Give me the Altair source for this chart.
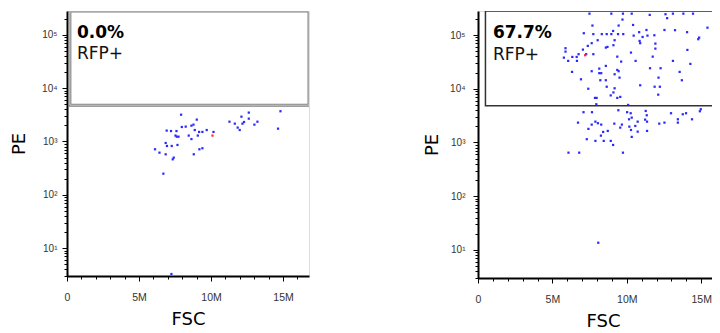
import altair as alt
import pandas as pd

# ---------------- data (FSC in millions, PE in raw units) ----------------
left_fsc = [7.92, 9.01, 6.92, 7.22, 7.60, 7.97, 8.24, 8.64, 8.78, 8.87, 9.17, 9.40, 9.70, 10.17,
            7.53, 7.62, 7.74, 8.45, 9.08, 8.64, 6.85, 6.94, 7.27, 7.67, 6.11, 6.42, 6.85, 7.41,
            7.34, 8.80, 9.19, 9.40, 6.69, 7.25, 11.28, 11.65, 12.11, 12.29, 12.18, 12.62, 12.62,
            11.85, 11.99, 13.01, 13.22, 14.82, 14.65]
left_pe = [3180, 2570, 1600, 1570, 1570, 1870, 1900, 1980, 2070, 1640, 1510, 1510, 1640, 1510,
           1290, 1230, 1230, 1290, 1290, 1110, 938, 824, 824, 861, 714, 617, 575, 498,
           463, 575, 714, 746, 249, 3.27, 2350, 2160, 2920, 2320, 2160, 3480, 2680,
           1820, 1640, 2070, 2350, 3690, 1740]
left_red_fsc = [10.10]
left_red_pe = [1290]

right_fsc = [7.49, 8.96, 9.74, 10.33, 11.54, 12.60, 12.71, 13.10, 13.80, 14.45, 9.71, 7.69, 9.45,
             10.42, 11.32, 12.53, 13.24, 15.42, 7.11, 7.75, 8.32, 8.65, 8.96, 9.08, 9.41, 9.76,
             10.46, 10.83, 11.06, 11.39, 11.85, 14.05, 14.86, 14.80, 8.04, 9.18, 10.86, 10.90,
             11.92, 7.64, 7.38, 9.10, 8.70, 8.59, 7.05, 5.88, 5.88, 11.92, 14.07, 10.28, 6.76,
             7.27, 7.75, 6.63, 6.34, 9.36, 5.77, 6.06, 6.65, 9.62, 10.59, 13.10, 14.27, 11.74,
             8.59, 8.15, 9.36, 9.45, 11.56, 12.27, 6.32, 7.64, 8.15, 8.28, 9.18, 13.55, 9.51,
             12.13, 6.92, 8.22, 8.59, 13.70, 10.90, 8.65, 11.87, 12.22, 7.41, 9.18, 9.10, 8.92,
             9.36, 9.56, 12.11, 7.86, 7.97, 7.95, 10.09,
             9.43, 10.02, 10.26, 11.27, 11.34, 7.09, 7.66, 12.97, 13.76, 13.98, 14.91, 14.97,
             6.72, 7.89, 8.06, 8.28, 7.64, 9.16, 9.67, 10.15, 10.33, 10.73, 11.23, 11.36, 10.57,
             10.17, 12.18, 12.53, 13.43, 13.43, 14.38, 7.42, 8.72, 8.41, 9.56, 10.28, 10.73,
             11.36, 8.26, 10.33, 7.31, 7.89, 8.45, 8.92, 9.08, 6.08, 6.80, 9.74, 8.08]
right_pe = [2.5e5, 2.5e5, 2.5e5, 2.5e5, 2.37e5, 2.44e5, 2.06e5, 2.5e5, 2.5e5, 2.5e5, 1.94e5, 1.5e5,
            1.5e5, 1.54e5, 1.24e5, 1.24e5, 1.23e5, 1.37e5, 1.08e5, 1.04e5, 1.04e5, 1.04e5, 1.04e5,
            1.19e5, 1.04e5, 1.04e5, 9.75e4, 1.13e5, 9.2e4, 9.75e4, 9.9e4, 1.13e5, 8.95e4, 8.36e4,
            8.0e4, 8.0e4, 7.76e4, 7.05e4, 6.92e4, 7.05e4, 6.27e4, 6.46e4, 6.01e4, 5.83e4, 5.35e4,
            5.68e4, 4.91e4, 5.58e4, 5.28e4, 4.71e4, 4.4e4, 4.4e4, 4.4e4, 3.91e4, 3.91e4, 3.96e4,
            3.79e4, 3.3e4, 3.3e4, 3.2e4, 3.3e4, 3.3e4, 2.9e4, 3.96e4, 2.66e4, 2.37e4, 2.24e4,
            2.12e4, 2.41e4, 2.41e4, 2.06e4, 2.12e4, 1.95e4, 1.95e4, 1.86e4, 2.06e4, 1.61e4,
            1.61e4, 1.5e4, 1.44e4, 1.44e4, 1.44e4, 1.16e4, 1.09e4, 1.09e4, 1.09e4, 1.0e4, 1.02e4,
            8530, 7520, 6750, 7050, 7760, 6750, 6750, 5150, 5000,
            3980, 3660, 3500, 3860, 3210, 3660, 3660, 3500, 3350, 3500, 3810, 4160,
            2340, 2440, 2280, 2150, 2150, 2240, 2150, 2700, 2900, 2440, 2660, 2440, 2030,
            1970, 2240, 2340, 2700, 2340, 2700, 1790, 1640, 1570, 1890, 1710, 1590,
            1640, 1340, 1270, 1150, 1070, 1070, 1070, 899, 646, 646, 646, 13.6]
right_red_fsc = [7.20]
right_red_pe = [4.21e4]

# gates: [FSC min (M), FSC max (M), PE min, PE max]
left_gate = [0.2, 16.8, 4800, 2.8e5]
right_gate = [0.5, 16.8, 4800, 2.8e5]

# annotations
left_pct = "0.0%"
right_pct = "67.7%"
gate_name = "RFP+"
left_text_fsc = 0.69
right_text_fsc = 1.0
pct_pe = 8.9e4
name_pe = 3.5e4

x_domain = [0, 16.8e6]
y_domain = [3, 2.8e5]
x_major = [0, 5_000_000, 10_000_000, 15_000_000]
x_minor = [i * 1_000_000 for i in range(0, 17)]
y_major = [10, 100, 1000, 10000, 100000]
y_minor = ([m for m in range(3, 10)] + [m * 10 for m in range(1, 10)] +
           [m * 100 for m in range(1, 10)] + [m * 1000 for m in range(1, 10)] +
           [m * 10000 for m in range(1, 10)] + [m * 100000 for m in range(1, 3)])

BLUE = "#2a2aff"
RED = "#ff2a2a"
LABEL_FONT = "Liberation Sans"
TITLE_FONT = "DejaVu Sans"


def panel(fsc, pe, red_fsc, red_pe, gate, pct, text_fsc, width, height,
          ylab_pad, ytitle_pad, gate_color, gate_w, double_line):
    pts = pd.DataFrame({"FSC": [v * 1e6 for v in fsc], "PE": pe})
    reds = pd.DataFrame({"FSC": [v * 1e6 for v in red_fsc], "PE": red_pe})
    g = pd.DataFrame({"x": [gate[0] * 1e6], "x2": [gate[1] * 1e6],
                      "y": [gate[2]], "y2": [gate[3]]})
    lab_b = pd.DataFrame({"FSC": [text_fsc * 1e6], "PE": [pct_pe], "t": [pct]})
    lab_n = pd.DataFrame({"FSC": [text_fsc * 1e6], "PE": [name_pe], "t": [gate_name]})

    xscale = alt.Scale(domain=x_domain, nice=False, zero=False)
    yscale = alt.Scale(type="log", domain=y_domain, nice=False)

    x_min_axis = alt.Axis(orient="bottom", values=x_minor, labels=False, tickSize=3,
                          tickColor="black", tickWidth=1, domainColor="black",
                          domainWidth=2, grid=False, title=None)
    y_min_axis = alt.Axis(orient="left", values=y_minor, labels=False, tickSize=3,
                          tickColor="black", tickWidth=1, domainColor="black",
                          domainWidth=2, grid=False, title=None)
    x_maj_axis = alt.Axis(
        orient="bottom", values=x_major,
        labelExpr="datum.value == 0 ? '0' : (datum.value / 1000000) + 'M'",
        tickSize=5, tickColor="black", tickWidth=1, domain=False,
        labelFont=LABEL_FONT, labelFontSize=10.5, labelColor="#333",
        labelPadding=11, labelOverlap=False, labelFlush=False, grid=False,
        title="FSC", titleFont=TITLE_FONT, titleFontSize=18, titleFontWeight="normal",
        titleColor="black", titlePadding=8)
    y_maj_axis = alt.Axis(
        orient="left", values=y_major,
        labelExpr="datum.value == 10 ? '10¹' : datum.value == 100 ? '10²' : datum.value == 1000 ? '10³' : datum.value == 10000 ? '10⁴' : '10⁵'",
        tickSize=5, tickColor="black", tickWidth=1, domain=False,
        labelFont=LABEL_FONT, labelFontSize=10, labelColor="#333",
        labelPadding=ylab_pad, labelOverlap=False, labelFlush=False, grid=False,
        title="PE", titleFont=TITLE_FONT, titleFontSize=18, titleFontWeight="normal",
        titleColor="black", titlePadding=ytitle_pad)

    base = alt.Chart(pts).mark_square(size=5, color=BLUE, opacity=1).encode(
        x=alt.X("FSC:Q", scale=xscale, axis=x_min_axis),
        y=alt.Y("PE:Q", scale=yscale, axis=y_min_axis),
    )
    red = alt.Chart(reds).mark_square(size=5, color=RED, opacity=1).encode(
        x=alt.X("FSC:Q", scale=xscale, axis=x_maj_axis),
        y=alt.Y("PE:Q", scale=yscale, axis=y_maj_axis))

    layers = []
    enc = dict(x=alt.X("x:Q", scale=xscale, axis=None), x2="x2:Q",
               y=alt.Y("y:Q", scale=yscale, axis=None), y2="y2:Q")
    layers.append(alt.Chart(g).mark_rect(fillOpacity=0, stroke=gate_color,
                                         strokeWidth=gate_w, clip=True).encode(**enc))
    if double_line:
        layers.append(alt.Chart(g).mark_rect(fillOpacity=0, stroke="#e6e6e6",
                                             strokeWidth=0.8, clip=True).encode(**enc))

    txt_b = alt.Chart(lab_b).mark_text(
        align="left", baseline="alphabetic", font=TITLE_FONT, fontSize=17,
        fontWeight="bold", color="black").encode(
        x=alt.X("FSC:Q", scale=xscale, axis=None),
        y=alt.Y("PE:Q", scale=yscale, axis=None), text="t:N")
    txt_n = alt.Chart(lab_n).mark_text(
        align="left", baseline="alphabetic", font=TITLE_FONT, fontSize=17,
        fontWeight="normal", color="#111").encode(
        x=alt.X("FSC:Q", scale=xscale, axis=None),
        y=alt.Y("PE:Q", scale=yscale, axis=None), text="t:N")

    return alt.layer(base, *layers, red, txt_b, txt_n).resolve_axis(
        x="independent", y="independent").properties(width=width, height=height)


left = panel(left_fsc, left_pe, left_red_fsc, left_red_pe, left_gate, left_pct,
             left_text_fsc, 242, 265, 5, 13, "#808080", 3, True)
right = panel(right_fsc, right_pe, right_red_fsc, right_red_pe, right_gate, right_pct,
              right_text_fsc, 250, 267, 8, 8, "#333333", 1.5, False)

chart = alt.hconcat(left, right, spacing=113).properties(
    padding={"left": 2, "top": 2, "right": -17, "bottom": 0}
).configure_view(stroke="black", strokeWidth=1.5).configure(background="white")

chart.save("out.html", embed_options={"renderer": "svg", "actions": False})
